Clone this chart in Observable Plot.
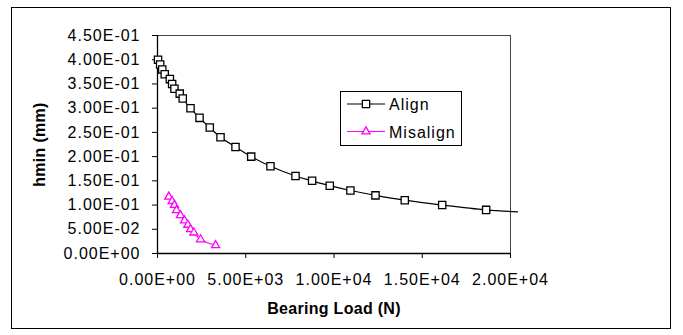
<!DOCTYPE html>
<html>
<head>
<meta charset="utf-8">
<script src="https://cdn.jsdelivr.net/npm/d3@7"></script>
<script src="https://cdn.jsdelivr.net/npm/@observablehq/plot@0.6"></script>
<style>
  html, body { margin: 0; padding: 0; background: #fff; }
  #wrap { position: relative; width: 683px; height: 335px; }
  #border { position: absolute; left: 11px; top: 7px; width: 658px; height: 320px; border: 1px solid #000; pointer-events: none; }
  #chart svg text { letter-spacing: 1px; }
  #chart g[aria-label="x-axis label"] text, #chart g[aria-label="y-axis label"] text { font-weight: bold; letter-spacing: 0.3px; }
  #legend { position: absolute; left: 340px; top: 91px; }
</style>
</head>
<body>
<div id="wrap">
  <div id="chart"></div>
  <div id="border"></div>
  <div id="legend"></div>
</div>
<script>
// ---- data ----
const alignLoad = [30, 150, 270, 410, 700, 830, 960, 1260, 1430, 1870, 2380, 2960, 3570, 4420, 5310, 6400, 7820, 8760, 9760, 10930, 12350, 14010, 16130, 18620, 20400];
const alignHmin = [0.40, 0.39, 0.38, 0.37, 0.36, 0.35, 0.34, 0.33, 0.32, 0.30, 0.28, 0.26, 0.24, 0.22, 0.20, 0.18, 0.16, 0.15, 0.14, 0.13, 0.12, 0.11, 0.10, 0.09, 0.086];
const misLoad = [640, 830, 960, 1075, 1300, 1530, 1720, 1870, 2060, 2440, 3290];
const misHmin = [0.117, 0.108, 0.100, 0.089, 0.079, 0.068, 0.059, 0.050, 0.043, 0.029, 0.017];
const seriesNames = ["Align", "Misalign"];
const seriesColors = ["#000000", "#ff00ff"];
const xTicks = [0, 5000, 10000, 15000, 20000];
const yTicks = [0, 0.05, 0.10, 0.15, 0.20, 0.25, 0.30, 0.35, 0.40, 0.45];
const xTitle = "Bearing Load (N)";
const yTitle = "hmin (mm)";

function excelSci(v) {
  if (Math.abs(v) < 1e-12) return "0.00E+00";
  const e = Math.floor(Math.log10(Math.abs(v)) + 1e-9);
  const m = v / Math.pow(10, e);
  return m.toFixed(2) + "E" + (e < 0 ? "-" : "+") + String(Math.abs(e)).padStart(2, "0");
}

const align = alignLoad.map((x, i) => ({x, y: alignHmin[i]}));
const mis = misLoad.map((x, i) => ({x, y: misHmin[i]}));
const xMax = xTicks[xTicks.length - 1];

const chart = Plot.plot({
  width: 683,
  height: 335,
  marginLeft: 157,
  marginRight: 173,
  marginTop: 35,
  marginBottom: 82,
  style: { fontFamily: "'Liberation Sans', Arial, sans-serif", fontSize: "16px", color: "#000", background: "transparent" },
  x: { domain: [0, xMax] },
  y: { domain: [0, yTicks[yTicks.length - 1]] },
  marks: [
    Plot.frame({ stroke: "#444", strokeWidth: 1 }),
    Plot.axisX({ ticks: xTicks, tickFormat: excelSci, tickSize: 5, tickPadding: 15, label: xTitle, labelAnchor: "center", labelArrow: false, labelOffset: 60 }),
    Plot.axisY({ ticks: yTicks, tickFormat: excelSci, tickSize: 5, tickPadding: 12, label: yTitle, labelAnchor: "center", labelArrow: false, labelOffset: 124 }),
    Plot.ruleX([0], { stroke: "#000", strokeWidth: 1.3 }),
    Plot.ruleY([0], { stroke: "#000", strokeWidth: 1.3 }),
    Plot.line(align, { x: "x", y: "y", stroke: seriesColors[0], strokeWidth: 1.2, curve: "catmull-rom", clip: false }),
    Plot.line(mis, { x: "x", y: "y", stroke: seriesColors[1], strokeWidth: 1.2, curve: "catmull-rom" }),
    Plot.dot(align.filter(d => d.x <= xMax), { x: "x", y: "y", symbol: "square", r: 4.1, stroke: seriesColors[0], strokeWidth: 1.3, fill: "white" }),
    Plot.dot(mis, { x: "x", y: "y", symbol: "triangle", r: 3, stroke: seriesColors[1], strokeWidth: 1.3, fill: "white" })
  ]
});
document.getElementById("chart").appendChild(chart);

// legend
const lg = d3.select("#legend").append("svg").attr("width", 123).attr("height", 56)
  .style("font-family", "'Liberation Sans', Arial, sans-serif").style("font-size", "16px");
lg.append("rect").attr("x", 0.5).attr("y", 0.5).attr("width", 121).attr("height", 54).attr("fill", "white").attr("stroke", "#000");
seriesNames.forEach((name, i) => {
  const cy = 13 + i * 27.5;
  lg.append("line").attr("x1", 7).attr("x2", 45).attr("y1", cy).attr("y2", cy).attr("stroke", seriesColors[i]).attr("stroke-width", 1.2);
  const sym = i === 0 ? d3.symbol(d3.symbolSquare, 4.1 * 4.1 * Math.PI) : d3.symbol(d3.symbolTriangle, 3 * 3 * Math.PI);
  lg.append("path").attr("d", sym()).attr("transform", `translate(26,${cy})`).attr("fill", "white").attr("stroke", seriesColors[i]).attr("stroke-width", 1.3);
  lg.append("text").attr("x", 49).attr("y", cy + 6).attr("letter-spacing", "1px").text(name);
});
</script>
</body>
</html>
